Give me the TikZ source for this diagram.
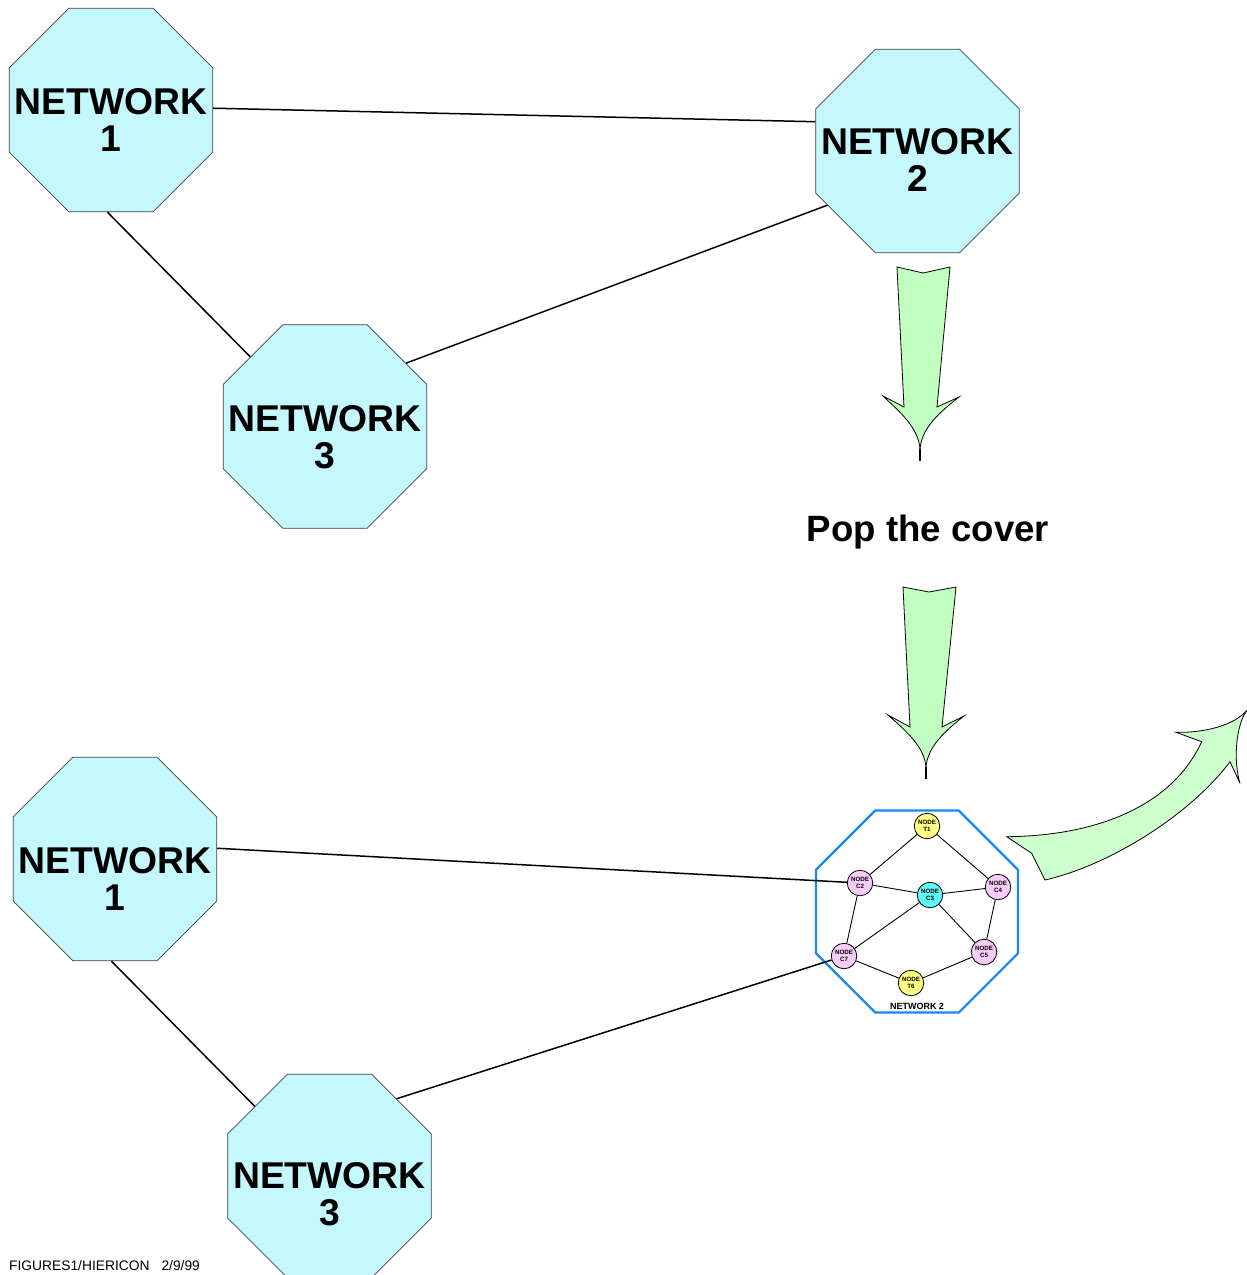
\documentclass[tikz,border=0pt]{standalone}
\usepackage{fontspec}
\setmainfont{Liberation Sans}
\usetikzlibrary{shapes.geometric}

\definecolor{netfill}{RGB}{196,248,252}
\definecolor{arrowgreen}{RGB}{192,255,192}
\definecolor{curvegreen}{RGB}{204,255,204}
\definecolor{nodepink}{RGB}{248,204,248}
\definecolor{nodeyellow}{RGB}{255,255,128}
\definecolor{nodecyan}{RGB}{96,248,248}
\definecolor{netblue}{RGB}{24,136,240}

\begin{document}
\begin{tikzpicture}[x=1pt,y=-1pt,
  octa/.style={regular polygon, regular polygon sides=8, minimum size=220.3pt,
    inner sep=0pt, draw=black!75, line width=0.8pt, fill=netfill},
  nettext/.style={font=\fontsize{37.3}{37}\selectfont\bfseries, align=center, inner sep=0pt},
  link/.style={line width=1.5pt},
  inlink/.style={line width=0.9pt},
  subnode/.style={circle, draw, line width=0.8pt, minimum size=25.5pt, inner sep=0pt,
    align=center, font=\fontsize{6.2}{6.6}\selectfont\bfseries},
  downarrow/.style={fill=arrowgreen, draw=black, line width=0.8pt, line join=miter},
  curvearrow/.style={fill=curvegreen, draw=black, line width=0.8pt},
]
\useasboundingbox (0,0) rectangle (1247,1275);

% ---------- upper level: three networks ----------
\node[octa, label={[nettext,yshift=-10pt]center:{NETWORK\\1}}] (n1) at (111,110) {};
\node[octa, label={[nettext,yshift=-9pt]center:{NETWORK\\2}}] (n2) at (917.5,151) {};
\node[octa, label={[nettext,yshift=-10.5pt]center:{NETWORK\\3}}] (n3) at (325,426.5) {};

\draw[link] (n1.1.7) -- (n2.164.6);
\draw[link] (n1.268.3) -- (n3.137.2);
\draw[link] (n2.211.9) -- (n3.38.2);

% ---------- arrows and caption ----------
\filldraw[downarrow] (897,267) -- (923,273) -- (950,267) -- (937,407) -- (959,397)
  .. controls (940,412) and (921,428) .. (920,450)
  .. controls (919,428) and (900,412) .. (883,396) -- (904,407) -- cycle;
\draw[line width=1.6pt] (920,449) -- (920,461);

\node[anchor=base, inner sep=0pt, font=\fontsize{36.6}{36.6}\selectfont\bfseries]
  (caption) at (928,541) {Pop the cover};

\filldraw[downarrow] (903,587) -- (929,592) -- (956,587) -- (942,727) -- (964,716)
  .. controls (945,731) and (927,747) .. (926,768)
  .. controls (925,747) and (906,731) .. (888,715) -- (910,727) -- cycle;
\draw[line width=1.6pt] (926,767) -- (926,779);

\filldraw[curvearrow] (1006.7,836.7) .. controls (1090,836) and (1170,810) .. (1201.7,741.7)
  -- (1176,732.3) .. controls (1205,733) and (1235,725) .. (1247,710)
  .. controls (1236,725) and (1233,760) .. (1240,783.3)
  -- (1230,761.7) .. controls (1190,815) and (1110,865) .. (1045,880)
  -- (1031.7,853.3) -- cycle;

% ---------- lower level: network 2 opened ----------
\node[octa, label={[nettext,yshift=-20pt]center:{NETWORK\\1}}] (m1) at (115,859) {};
\node[octa, label={[nettext,yshift=-18pt]center:{NETWORK\\3}}] (m3) at (329.5,1176) {};

\node[regular polygon, regular polygon sides=8, minimum size=218.6pt, inner sep=0pt,
  draw=netblue, line width=2.2pt] (box2) at (917,911.5) {};
\node[anchor=base, inner sep=0pt, font=\fontsize{9}{9}\selectfont\bfseries]
  (box2label) at (917,1009) {NETWORK 2};

\node[subnode, fill=nodeyellow] (t1) at (927,826) {NODE\\T1};
\node[subnode, fill=nodepink]   (c2) at (860,883) {NODE\\C2};
\node[subnode, fill=nodecyan]   (c3) at (930,895) {NODE\\C3};
\node[subnode, fill=nodepink]   (c4) at (998,887) {NODE\\C4};
\node[subnode, fill=nodepink]   (c5) at (984,952) {NODE\\C5};
\node[subnode, fill=nodepink]   (c7) at (844,956) {NODE\\C7};
\node[subnode, fill=nodeyellow] (t6) at (911,983) {NODE\\T6};

\draw[inlink] (t1) -- (c2);
\draw[inlink] (t1) -- (c4);
\draw[inlink] (c2) -- (c3);
\draw[inlink] (c3) -- (c4);
\draw[inlink] (c2) -- (c7);
\draw[inlink] (c3) -- (c7);
\draw[inlink] (c3) -- (c5);
\draw[inlink] (c4) -- (c5);
\draw[inlink] (c7) -- (t6);
\draw[inlink] (t6) -- (c5);

\draw[link] (m1.6.7) -- (c2);
\draw[link] (m1.268.9) -- (m3.137.6);
\draw[link] (m3.49.9) -- (c7);

% ---------- footer ----------
\node[anchor=base west, inner sep=0pt, font=\fontsize{13.8}{13.8}\selectfont]
  (footer) at (9,1270) {FIGURES1/HIERICON\hspace{12pt}2/9/99};
\end{tikzpicture}
\end{document}
